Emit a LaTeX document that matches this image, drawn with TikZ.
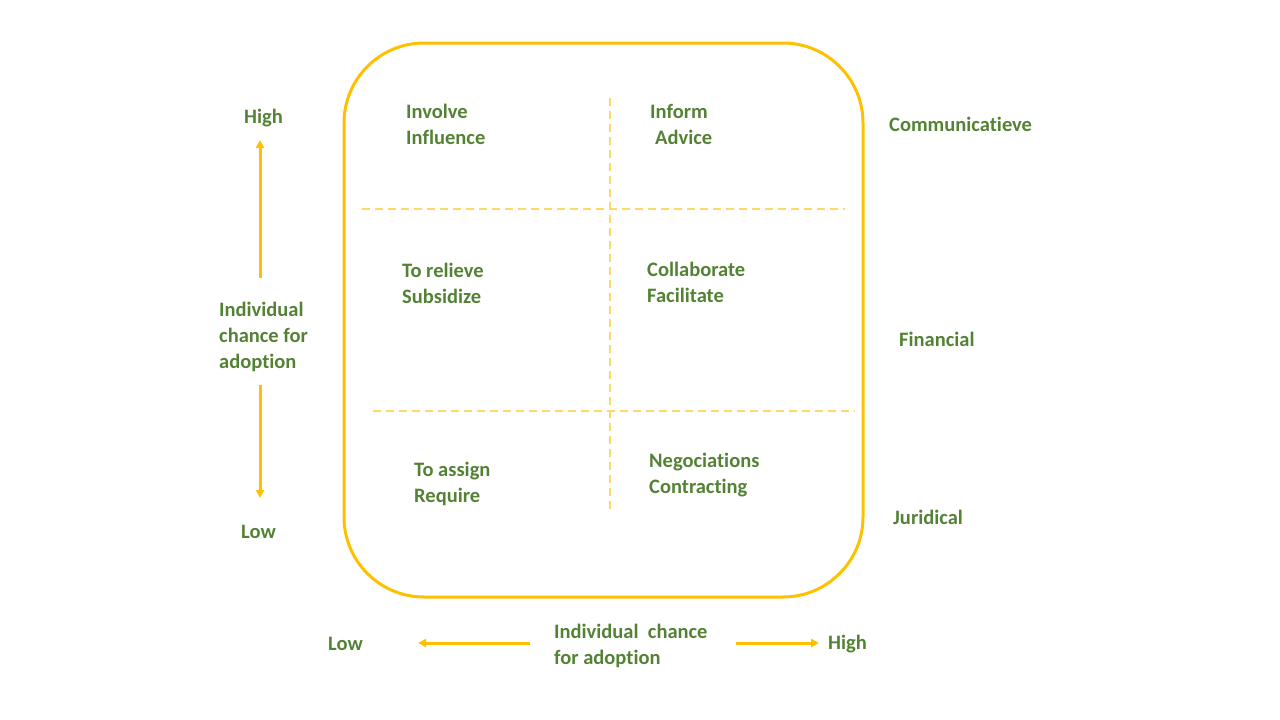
\documentclass[tikz,border=0pt]{standalone}
\usepackage{fontspec}
\setmainfont{Carlito}[RawFeature={-liga}]
\usetikzlibrary{arrows.meta}
\definecolor{tgreen}{HTML}{548235}
\definecolor{gold}{HTML}{FFC000}
\definecolor{lgold}{HTML}{FFD966}
\tikzset{
  lbl/.style={inner sep=0pt, anchor=west, align=left, text=tgreen,
    font=\fontsize{20.5}{26}\selectfont\bfseries},
  arr/.style={draw=gold, line width=3pt, -{Triangle[length=8pt,width=8pt]}},
  frame/.style={draw=gold, line width=3pt, rounded corners=80pt},
  grid/.style={draw=lgold, line width=1.8pt, dash pattern=on 8pt off 5pt}
}
\begin{document}
\begin{tikzpicture}[x=1pt,y=-1pt]
\useasboundingbox (0,0) rectangle (1280,720);
% frame
\draw[frame] (344,43) rectangle (863,597);
% grid
\coordinate (vt) at (610,98);
\coordinate (vb) at (610,513);
\coordinate (h1l) at (362,209);
\coordinate (h1r) at (845,209);
\coordinate (h2l) at (373,411);
\coordinate (h2r) at (855,411);
\draw[grid] (vt) -- (vb);
\draw[grid] (h1l) -- (h1r);
\draw[grid] (h2l) -- (h2r);
% quadrant texts
\node[lbl] (q1) at (406,124) {Involve\\Influence};
\node[lbl] (q2) at (650,124) {Inform\\\hspace{5pt}Advice};
\node[lbl] (q3) at (402,283) {To relieve\\Subsidize};
\node[lbl] (q4) at (647,282) {Collaborate\\Facilitate};
\node[lbl] (q5) at (414,484) {To assign\\Require};
\node[lbl] (q6) at (649,475) {Negociations\\Contracting};
% right labels
\node[lbl] (r1) at (889,124) {Communicatieve};
\node[lbl] (r2) at (899,339) {Financial};
\node[lbl] (r3) at (893,517) {Juridical};
% vertical axis
\node[lbl] (vhigh) at (244,118) {High};
\node[lbl] (vlab) at (219,337) {Individual\\chance for\\adoption};
\node[lbl] (vlow) at (241,532) {Low};
\coordinate (vu1) at (260,278);
\coordinate (vu2) at (260,140);
\coordinate (vd1) at (260,385);
\coordinate (vd2) at (260,498);
\draw[arr] (vu1) -- (vu2);
\draw[arr] (vd1) -- (vd2);
% horizontal axis
\node[lbl] (hlow) at (328,644) {Low};
\node[lbl] (hlab) at (554,646) {Individual\ \ chance\\for adoption};
\node[lbl] (hhigh) at (828,644) {High};
\coordinate (hl1) at (530,643);
\coordinate (hl2) at (418,643);
\coordinate (hr1) at (736,643);
\coordinate (hr2) at (819,643);
\draw[arr] (hl1) -- (hl2);
\draw[arr] (hr1) -- (hr2);
\end{tikzpicture}
\end{document}
